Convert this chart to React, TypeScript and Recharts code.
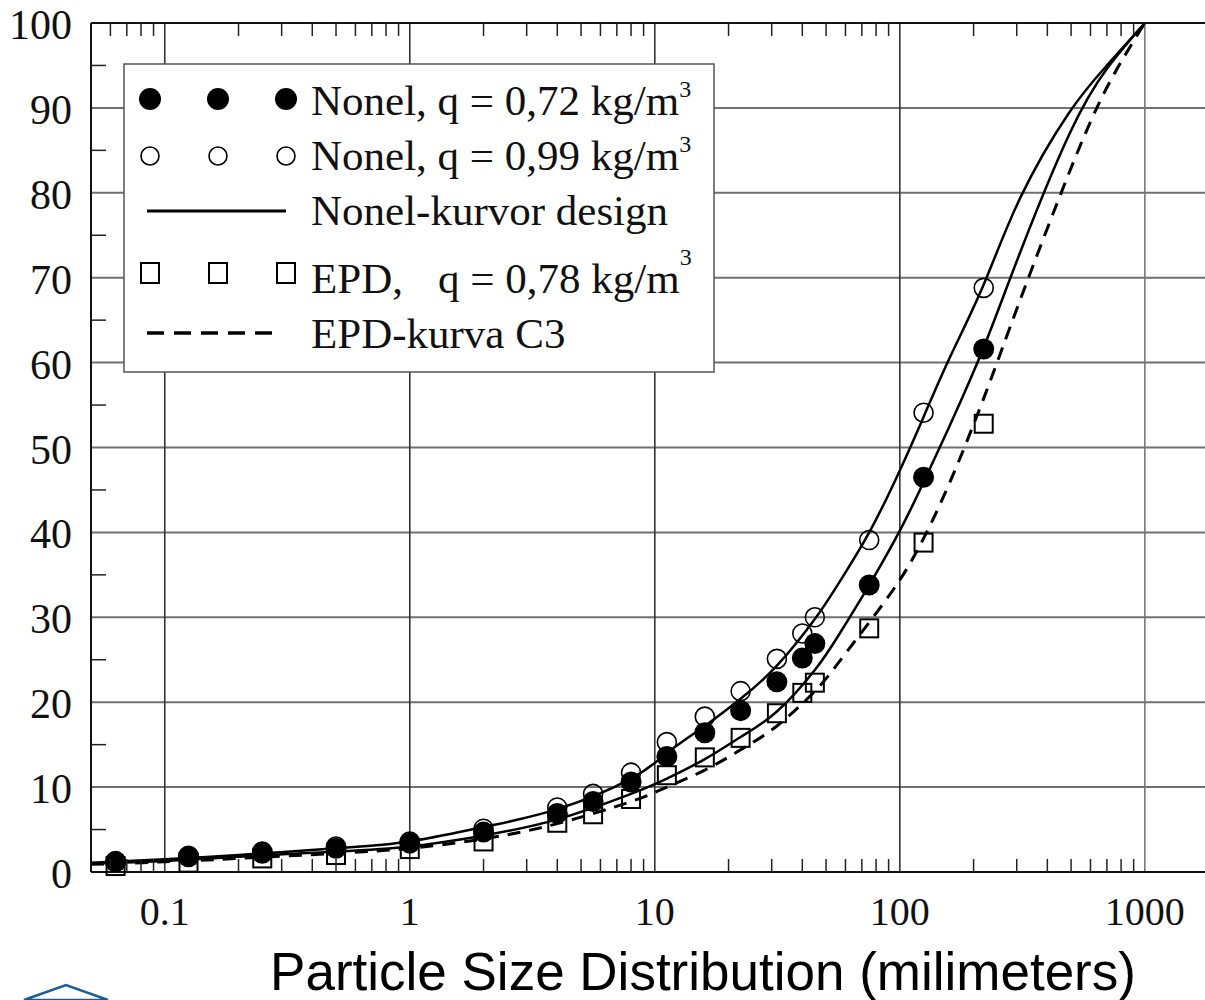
import { ComposedChart, Line, Scatter, XAxis, YAxis, ReferenceLine } from 'recharts'

// sieve sizes (mm) for the measured points
const sieveSizes = [0.063, 0.125, 0.25, 0.5, 1, 2, 4, 5.6, 8, 11.2, 16, 22.4, 31.5, 40, 45, 75, 125, 220]
const nonel072 = [1.2, 1.8, 2.2, 2.8, 3.4, 4.7, 6.9, 8.3, 10.6, 13.6, 16.4, 19.0, 22.4, 25.2, 26.9, 33.8, 46.5, 61.6]
const nonel099 = [1.3, 1.9, 2.4, 3.0, 3.6, 5.1, 7.6, 9.2, 11.7, 15.3, 18.3, 21.3, 25.1, 28.1, 30.0, 39.1, 54.1, 68.8]
const epd078 = [0.7, 1.1, 1.6, 2.0, 2.7, 3.6, 5.8, 6.8, 8.6, 11.4, 13.5, 15.8, 18.7, 21.1, 22.3, 28.7, 38.8, 52.8]

// design curves
const curveSizes = [0.05, 0.1, 0.2, 0.5, 1, 2, 4, 8, 11.2, 16, 22.4, 31.5, 45, 56, 75, 100, 125, 160, 220, 310, 490, 700, 1000]
const nonelCurveHigh = [1.1, 1.5, 2.0, 2.8, 3.6, 5.3, 7.4, 11.0, 14.0, 17.2, 20.4, 24.3, 29.8, 33.9, 40.0, 47.3, 53.6, 60.6, 69.2, 79.4, 89.4, 95.0, 100]
const nonelCurveLow = [1.0, 1.3, 1.8, 2.4, 3.0, 4.3, 6.2, 9.2, 11.0, 13.3, 15.9, 18.9, 23.8, 27.8, 33.8, 40.2, 45.9, 52.6, 61.8, 73.0, 86.8, 94.6, 100]
const epdCurveC3 = [0.9, 1.2, 1.6, 2.2, 2.8, 3.9, 5.7, 8.3, 10.0, 12.0, 14.4, 17.2, 21.3, 24.6, 29.4, 34.4, 39.3, 45.9, 55.8, 67.4, 82.3, 92.4, 100]

const xTicks = [
  0.06, 0.07, 0.08, 0.09, 0.1, 0.2, 0.3, 0.4, 0.5, 0.6, 0.7, 0.8, 0.9,
  1, 2, 3, 4, 5, 6, 7, 8, 9, 10, 20, 30, 40, 50, 60, 70, 80, 90,
  100, 200, 300, 400, 500, 600, 700, 800, 900, 1000,
]
const xDecades = [0.1, 1, 10, 100, 1000]
const yTicks = [0, 5, 10, 15, 20, 25, 30, 35, 40, 45, 50, 55, 60, 65, 70, 75, 80, 85, 90, 95, 100]
const yGrid = [10, 20, 30, 40, 50, 60, 70, 80, 90]

const toPoints = (xs: number[], ys: number[]) => xs.map((x, i) => ({ x, y: ys[i] }))

const SERIF = '"Liberation Serif", "Times New Roman", serif'

const BottomTick = ({ x, y, payload }: any) => {
  const v = payload.value
  if (xDecades.includes(v)) {
    return (
      <text x={x} y={y + 53} textAnchor="middle" fontFamily={SERIF} fontSize={40} fill="#111">
        {String(v)}
      </text>
    )
  }
  return <line x1={x} x2={x} y1={y} y2={y - 13} stroke="#222" strokeWidth={1.5} />
}

const TopTick = ({ x, y, payload }: any) => {
  if (xDecades.includes(payload.value)) return <g />
  return <line x1={x} x2={x} y1={y} y2={y + 13} stroke="#222" strokeWidth={1.5} />
}

const LeftTick = ({ x, y, payload }: any) => {
  const v = payload.value
  if (v % 10 === 0) {
    return (
      <text x={x - 19} y={y + 16} textAnchor="end" fontFamily={SERIF} fontSize={42} fill="#111">
        {v}
      </text>
    )
  }
  return <line x1={x} x2={x + 15} y1={y} y2={y} stroke="#222" strokeWidth={1.5} />
}

const FilledDot = (p: any) => <circle cx={p.cx} cy={p.cy} r={10.5} fill="#000" />
const OpenDot = (p: any) => <circle cx={p.cx} cy={p.cy} r={9.5} fill="none" stroke="#000" strokeWidth={1.6} />
const SquareDot = (p: any) => (
  <rect x={p.cx - 9} y={p.cy - 9} width={18} height={18} fill="none" stroke="#000" strokeWidth={2} />
)

function Overlay() {
  const rowText = { fontFamily: SERIF, fontSize: 43, fill: '#111' }
  const sup = { fontSize: 24 }
  const mx = [150, 218, 286]
  return (
    <svg width={1205} height={1000} style={{ position: 'absolute', left: 0, top: 0, pointerEvents: 'none' }}>
      {/* legend */}
      <rect x={124} y={64} width={590} height={308} fill="#fff" stroke="#555" strokeWidth={1.5} />
      {mx.map(cx => <circle key={'f' + cx} cx={cx} cy={99} r={11} fill="#000" />)}
      <text x={311} y={115} {...rowText}>Nonel, q = 0,72 kg/m<tspan dy={-18} {...sup}>3</tspan></text>
      {mx.map(cx => <circle key={'o' + cx} cx={cx} cy={156} r={9} fill="none" stroke="#000" strokeWidth={1.6} />)}
      <text x={311} y={170} {...rowText}>Nonel, q = 0,99 kg/m<tspan dy={-18} {...sup}>3</tspan></text>
      <line x1={147} x2={286} y1={211} y2={211} stroke="#000" strokeWidth={3} />
      <text x={311} y={225} {...rowText}>Nonel-kurvor design</text>
      {mx.map(cx => (
        <rect key={'s' + cx} x={cx - 9} y={263} width={18} height={20} fill="none" stroke="#000" strokeWidth={2} />
      ))}
      <text x={311} y={293} {...rowText}>EPD,</text>
      <text x={438} y={293} {...rowText}>q = 0,78 kg/m<tspan dy={-28} {...sup}>3</tspan></text>
      <line x1={147} x2={282} y1={333} y2={333} stroke="#000" strokeWidth={3.5} strokeDasharray="17 10" />
      <text x={311} y={348} {...rowText}>EPD-kurva C3</text>

      {/* axis title */}
      <text x={703} y={990} textAnchor="middle" fontFamily='"Liberation Sans", Arial, sans-serif' fontSize={53} fill="#000">
        Particle Size Distribution (milimeters)
      </text>

      {/* logo fragment, bottom left */}
      <polygon points="24,1000 66,985 108,1000" fill="none" stroke="#1b5c97" strokeWidth={2.5} />
    </svg>
  )
}

export default function App() {
  const upper = toPoints(curveSizes, nonelCurveHigh)
  const lower = toPoints(curveSizes, nonelCurveLow)
  const dashed = toPoints(curveSizes, epdCurveC3)

  return (
    <div style={{ position: 'absolute', left: 0, top: 0, width: 1205, height: 1000, background: '#fff', overflow: 'hidden' }}>
      <ComposedChart width={1205} height={1000} margin={{ top: 0, right: 0, bottom: 0, left: 0 }}>
        <XAxis
          dataKey="x"
          type="number"
          scale="log"
          domain={[0.05, 1760]}
          allowDataOverflow
          ticks={xTicks}
          interval={0}
          height={128}
          tickSize={0}
          tickMargin={0}
          tickLine={false}
          tick={<BottomTick />}
          axisLine={{ stroke: '#111', strokeWidth: 2 }}
        />
        <XAxis
          xAxisId="top"
          orientation="top"
          dataKey="x"
          type="number"
          scale="log"
          domain={[0.05, 1760]}
          allowDataOverflow
          ticks={xTicks}
          interval={0}
          height={23}
          tickSize={0}
          tickMargin={0}
          tickLine={false}
          tick={<TopTick />}
          axisLine={{ stroke: '#111', strokeWidth: 2 }}
        />
        <YAxis
          type="number"
          domain={[0, 100]}
          ticks={yTicks}
          interval={0}
          width={91}
          tickSize={0}
          tickMargin={0}
          tickLine={false}
          tick={<LeftTick />}
          axisLine={{ stroke: '#111', strokeWidth: 2 }}
        />

        {yGrid.map(v => (
          <ReferenceLine key={'h' + v} y={v} stroke="#707070" strokeWidth={2} />
        ))}
        {xDecades.map(v => (
          <ReferenceLine key={'v' + v} x={v} stroke={v === 1000 ? '#777' : '#333'} strokeWidth={1.6} />
        ))}

        <Line data={upper} dataKey="y" type="natural" stroke="#000" strokeWidth={2.5} dot={false} isAnimationActive={false} />
        <Line data={lower} dataKey="y" type="natural" stroke="#000" strokeWidth={2.5} dot={false} isAnimationActive={false} />
        <Line data={dashed} dataKey="y" type="natural" stroke="#000" strokeWidth={3} strokeDasharray="13 9" dot={false} isAnimationActive={false} />

        <Scatter data={toPoints(sieveSizes, nonel099)} dataKey="y" shape={OpenDot} isAnimationActive={false} />
        <Scatter data={toPoints(sieveSizes, epd078)} dataKey="y" shape={SquareDot} isAnimationActive={false} />
        <Scatter data={toPoints(sieveSizes, nonel072)} dataKey="y" shape={FilledDot} isAnimationActive={false} />
      </ComposedChart>
      <Overlay />
    </div>
  )
}
